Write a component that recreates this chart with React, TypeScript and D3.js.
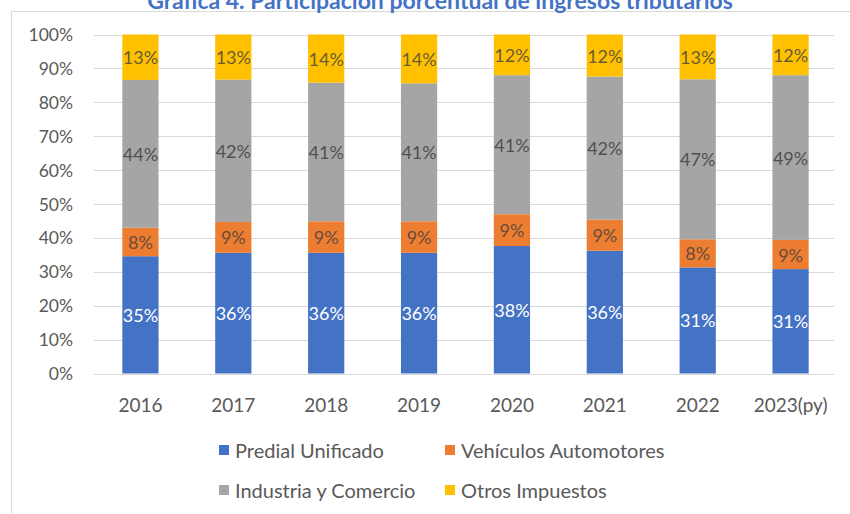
import React from 'react';
import * as d3 from 'd3';

const categories = ['2016', '2017', '2018', '2019', '2020', '2021', '2022', '2023(py)'];
const predial = [34.6, 35.6, 35.6, 35.6, 37.6, 36.2, 31.3, 30.8];
const vehiculos = [8.4, 9.1, 9.3, 9.3, 9.4, 9.2, 8.3, 8.6];
const industria = [43.6, 42.0, 40.9, 40.7, 41.0, 42.2, 47.2, 48.6];
const otros = [13.4, 13.3, 14.2, 14.4, 12.0, 12.4, 13.2, 12.0];
const seriesNames = ['Predial Unificado', 'Vehículos Automotores', 'Industria y Comercio', 'Otros Impuestos'];
const seriesKeys = ['predial', 'vehiculos', 'industria', 'otros'];
const colors = ['#4472C4', '#ED7D31', '#A5A5A5', '#FFC000'];
const yTicks = [0, 10, 20, 30, 40, 50, 60, 70, 80, 90, 100];
const title = 'Gráfica 4. Participación porcentual de ingresos tributarios';

const FONT = 'Lato, "Open Sans", sans-serif';

export default function App() {
  const rows = categories.map((c, i) => ({
    cat: c,
    predial: predial[i],
    vehiculos: vehiculos[i],
    industria: industria[i],
    otros: otros[i],
  }));
  const stack = d3.stack<any>().keys(seriesKeys);
  const stacked = stack(rows);

  const x = d3.scaleBand<string>().domain(categories).range([94, 837]).paddingInner(0.61).paddingOuter(0.305);
  const y = d3.scaleLinear().domain([0, 100]).range([373.5, 34.5]);

  const labelFill = ['#ffffff', '#404040', '#404040', '#404040'];
  const labelOpacity = [1, 0.8, 0.85, 0.8];

  const legendItems = [
    { i: 0, x: 219, y: 450 },
    { i: 1, x: 445, y: 450 },
    { i: 2, x: 219, y: 490 },
    { i: 3, x: 445, y: 490 },
  ];

  return (
    <svg width={850} height={514} style={{ position: 'absolute', left: 0, top: 0, background: '#fff' }}>
      <rect x={0} y={0} width={850} height={514} fill="#ffffff" />
      <rect x={11.5} y={11.5} width={850} height={520} fill="none" stroke="#d9d9d9" strokeWidth={1} />
      <text x={440} y={9} textAnchor="middle" fontFamily={FONT} fontWeight="bold" fontSize={23} fill="#4472C4">
        {title}
      </text>
      {yTicks.map((t) => (
        <g key={t}>
          <line x1={94} x2={834} y1={Math.round(y(t)) + 0.5} y2={Math.round(y(t)) + 0.5} stroke="#d9d9d9" strokeWidth={1} />
          <text x={73} y={y(t)} textAnchor="end" dominantBaseline="central" fontFamily={FONT} fontSize={17.5} fill="#595959">
            {`${t}%`}
          </text>
        </g>
      ))}
      {stacked.map((s, si) => (
        <g key={s.key}>
          {s.map((d: any, di: number) => (
            <rect
              key={di}
              x={x(categories[di])}
              y={y(d[1])}
              width={x.bandwidth()}
              height={y(d[0]) - y(d[1])}
              fill={colors[si]}
            />
          ))}
        </g>
      ))}
      {stacked.map((s, si) => (
        <g key={'l' + s.key}>
          {s.map((d: any, di: number) => (
            <text
              key={di}
              x={(x(categories[di]) as number) + x.bandwidth() / 2}
              y={(y(d[0]) + y(d[1])) / 2}
              textAnchor="middle"
              dominantBaseline="central"
              fontFamily={FONT}
              fontSize={18}
              fill={labelFill[si]}
              fillOpacity={labelOpacity[si]}
            >
              {`${Math.round(d[1] - d[0])}%`}
            </text>
          ))}
        </g>
      ))}
      {categories.map((c) => (
        <text
          key={c}
          x={(x(c) as number) + x.bandwidth() / 2}
          y={404}
          textAnchor="middle"
          dominantBaseline="central"
          fontFamily={FONT}
          fontSize={19}
          fill="#595959"
        >
          {c}
        </text>
      ))}
      {legendItems.map((it) => (
        <g key={it.i}>
          <rect x={it.x} y={it.y - 5} width={10} height={10} fill={colors[it.i]} />
          <text x={it.x + 16} y={it.y} dominantBaseline="central" fontFamily={FONT} fontSize={20} fill="#595959">
            {seriesNames[it.i]}
          </text>
        </g>
      ))}
    </svg>
  );
}
